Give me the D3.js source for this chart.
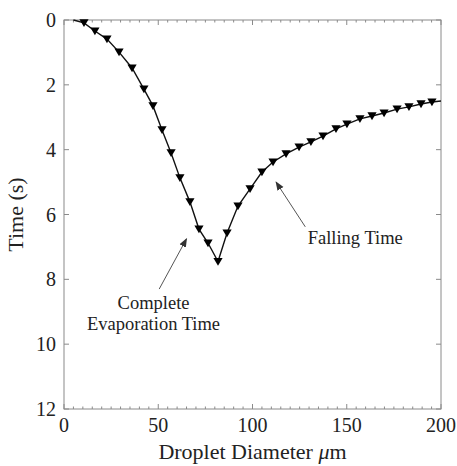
<!DOCTYPE html>
<html>
<head>
<meta charset="utf-8">
<script src="https://cdn.jsdelivr.net/npm/d3@7/dist/d3.min.js"></script>
<style>
  html, body { margin: 0; padding: 0; background: #fff; }
  svg { display: block; }
  svg text, svg tspan { font-family: "Liberation Serif", "DejaVu Serif", serif; fill: #222; }
</style>
</head>
<body>
<svg id="chart" width="457" height="466"></svg>
<script>
// ---- data ----
const diameter = [5, 10.6, 16.4, 22.8, 29.2, 36.1, 42.4, 47.2, 52.0, 56.8, 61.5, 66.8, 71.6, 76.4, 81.7,
                  86.5, 92.3, 98.7, 105.0, 110.9, 117.8, 124.7, 131.0, 137.4, 144.3, 150.1, 157.0,
                  163.4, 169.8, 176.7, 183.0, 189.4, 195.2, 200];
const time = [0, 0.09, 0.34, 0.59, 0.99, 1.48, 2.13, 2.65, 3.39, 4.10, 4.87, 5.61, 6.45, 6.88, 7.45,
              6.57, 5.74, 5.21, 4.69, 4.38, 4.13, 3.92, 3.76, 3.58, 3.36, 3.21, 3.05,
              2.96, 2.87, 2.75, 2.68, 2.59, 2.53, 2.50];
const xTicks = [0, 50, 100, 150, 200];
const yTicks = [0, 2, 4, 6, 8, 10, 12];
const xLabel = "Droplet Diameter ";
const yLabel = "Time (s)";
const annotations = [
  { lines: ["Falling Time"], tail: [128, 6.38], head: [112.5, 5.0], text: [154.5, 6.9] },
  { lines: ["Complete", "Evaporation Time"], tail: [50.5, 8.3], head: [65, 6.75], text: [47.5, 8.9] }
];

// ---- layout ----
const FONT = "'Liberation Serif', 'DejaVu Serif', serif";
const svg = d3.select("#chart");
const m = { left: 64, top: 20, right: 441, bottom: 409 };
const x = d3.scaleLinear().domain([0, 200]).range([m.left, m.right]);
const y = d3.scaleLinear().domain([0, 12]).range([m.top, m.bottom]);
const axisColor = "#8a8a8a";

// box
svg.append("rect")
  .attr("x", m.left).attr("y", m.top)
  .attr("width", m.right - m.left).attr("height", m.bottom - m.top)
  .attr("fill", "none").attr("stroke", axisColor).attr("stroke-width", 1);

// minor & major ticks (inward) on all sides
const minorX = d3.range(0, 201, 5);
const g = svg.append("g").attr("stroke", axisColor).attr("stroke-width", 1);
minorX.forEach(v => {
  const len = (v % 50 === 0) ? 5 : 2.5;
  g.append("line").attr("x1", x(v)).attr("x2", x(v)).attr("y1", m.bottom).attr("y2", m.bottom - len);
  g.append("line").attr("x1", x(v)).attr("x2", x(v)).attr("y1", m.top).attr("y2", m.top + len);
});
yTicks.forEach(v => {
  g.append("line").attr("x1", m.left).attr("x2", m.left + 5).attr("y1", y(v)).attr("y2", y(v));
  g.append("line").attr("x1", m.right).attr("x2", m.right - 5).attr("y1", y(v)).attr("y2", y(v));
});

// tick labels
svg.append("g").selectAll("text").data(xTicks).join("text")
  .attr("font-family", FONT)
  .attr("x", d => x(d)).attr("y", m.bottom + 23)
  .attr("text-anchor", "middle").attr("font-size", 20).text(d => d);
svg.append("g").selectAll("text").data(yTicks).join("text")
  .attr("font-family", FONT)
  .attr("x", m.left - 8).attr("y", d => y(d) + 7)
  .attr("text-anchor", "end").attr("font-size", 20).text(d => d);

// axis labels
const xl = svg.append("text").attr("font-family", FONT)
  .attr("x", (m.left + m.right) / 2).attr("y", 459)
  .attr("text-anchor", "middle").attr("font-size", 22);
xl.append("tspan").text(xLabel);
xl.append("tspan").attr("font-style", "italic").text("\u03bc");
xl.append("tspan").text("m");
svg.append("text").attr("font-family", FONT)
  .attr("transform", `translate(23,${(m.top + m.bottom) / 2}) rotate(-90)`)
  .attr("text-anchor", "middle").attr("font-size", 22).text(yLabel);

// data line
const pts = diameter.map((d, i) => [d, time[i]]);
svg.append("path").datum(pts)
  .attr("fill", "none").attr("stroke", "#111").attr("stroke-width", 1.4)
  .attr("d", d3.line().x(d => x(d[0])).y(d => y(d[1])));

// markers (downward triangles), not at the line ends
const tri = "M-4.6,-3.6 L4.6,-3.6 L0,4.2 Z";
svg.append("g").selectAll("path").data(pts.slice(1, -1)).join("path")
  .attr("d", tri).attr("fill", "#000")
  .attr("transform", d => `translate(${x(d[0])},${y(d[1])})`);

// annotations
const defs = svg.append("defs");
defs.append("marker").attr("id", "ah").attr("viewBox", "0 0 10 10")
  .attr("refX", 9).attr("refY", 5).attr("markerWidth", 9).attr("markerHeight", 9)
  .attr("markerUnits", "userSpaceOnUse").attr("orient", "auto")
  .append("path").attr("d", "M0,1 L10,5 L0,9 Z").attr("fill", "#333");
annotations.forEach(a => {
  svg.append("line")
    .attr("x1", x(a.tail[0])).attr("y1", y(a.tail[1]))
    .attr("x2", x(a.head[0])).attr("y2", y(a.head[1]))
    .attr("stroke", "#555").attr("stroke-width", 1).attr("marker-end", "url(#ah)");
  const t = svg.append("text").attr("font-family", FONT)
    .attr("text-anchor", "middle").attr("font-size", 18.5);
  a.lines.forEach((l, i) => {
    t.append("tspan").attr("font-family", FONT)
      .attr("x", x(a.text[0])).attr("y", y(a.text[1]) + i * 21).text(l);
  });
});
</script>
</body>
</html>
